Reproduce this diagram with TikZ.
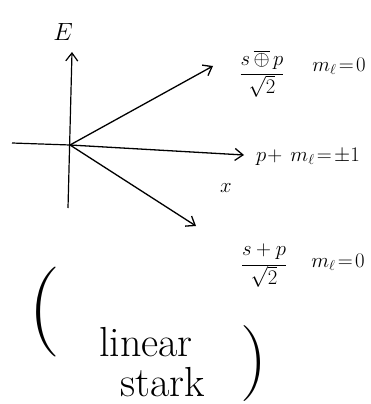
\documentclass[tikz,border=0pt]{standalone}
\usetikzlibrary{arrows.meta}
\begin{document}
\begin{tikzpicture}[x=1pt,y=-1pt,
  vec/.style={line width=1.3pt,-{Straight Barb[length=8pt,width=12pt]}},
  axis/.style={line width=1.2pt},
  lab/.style={inner sep=1pt,font=\fontsize{22}{24}\selectfont}]
\useasboundingbox (0,0) rectangle (370,404);
\coordinate (O) at (70,145);
\coordinate (Ebot) at (68,208);
\coordinate (Etop) at (72,52);
\coordinate (Xleft) at (12,143);
\coordinate (Tu) at (213,66);
\coordinate (Tm) at (244,155);
\coordinate (Td) at (196,226);
\draw[axis,-{Straight Barb[length=8pt,width=12pt]}] (Ebot) -- (Etop);
\draw[axis] (Xleft) -- (O);
\draw[vec] (O) -- (Tu);
\draw[vec] (O) -- (Tm);
\draw[vec] (O) -- (Td);
\node[lab,font=\fontsize{26}{28}\selectfont] (E) at (63,32) {$E$};
\node[lab] (x) at (226,188) {$x$};
\node[lab] (fu) at (262,74) {$\displaystyle\frac{s\,\overline{\oplus}\,p}{\sqrt{2}}$};
\node[lab] (mu) at (339,66) {$m_\ell\!=\!0$};
\node[lab] (pm) at (308,157) {$p\!+\,m_\ell\!=\!\pm1$};
\node[lab] (fd) at (264,266) {$\displaystyle\frac{s+p}{\sqrt{2}}$};
\node[lab] (md) at (338,262) {$m_\ell\!=\!0$};
\node[inner sep=0pt,font=\fontsize{90}{90}\selectfont] (lp) at (44,312) {(};
\node[inner sep=0pt,font=\fontsize{76}{76}\selectfont] (rp) at (254,364) {)};
\node[inner sep=0pt,font=\fontsize{42}{44}\selectfont] (lin) at (146,342) {linear};
\node[inner sep=0pt,font=\fontsize{42}{44}\selectfont] (st) at (163,382) {stark};
\end{tikzpicture}
\end{document}
